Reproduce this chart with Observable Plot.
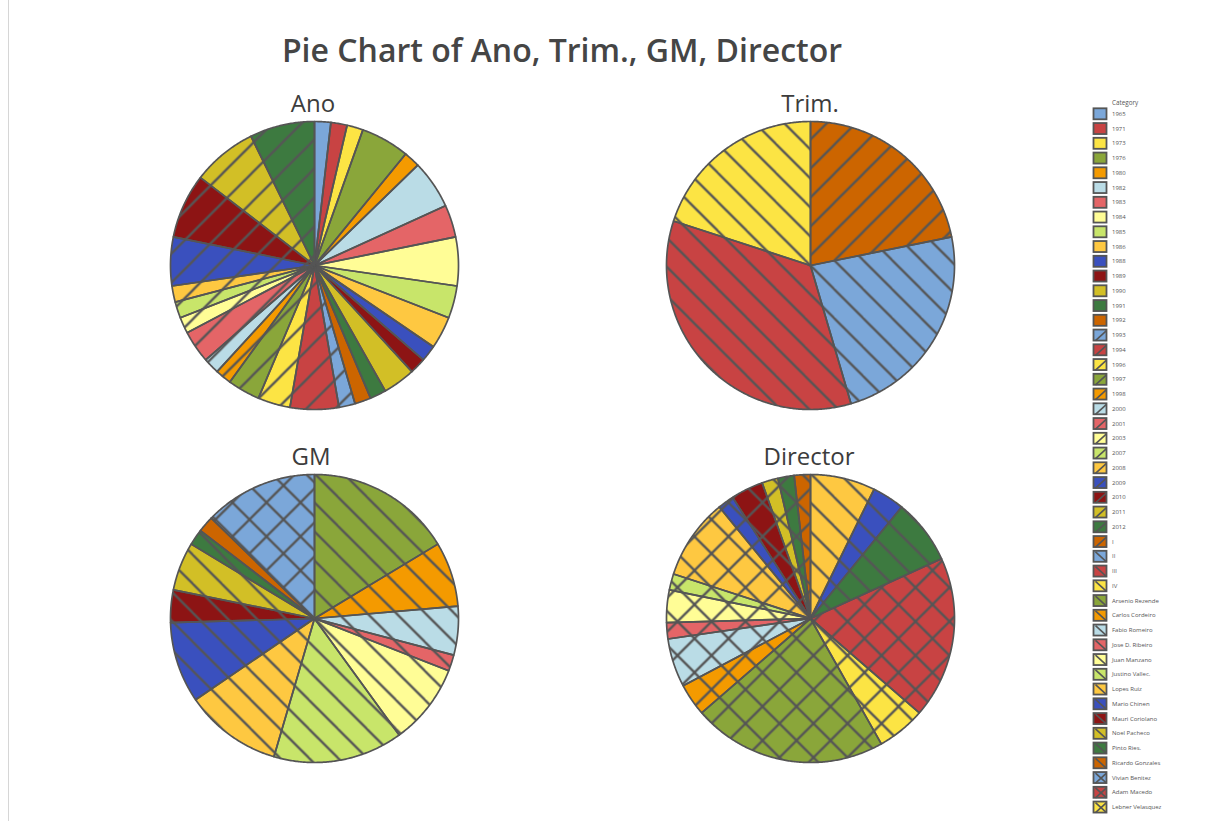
<!DOCTYPE html>
<html><head><meta charset="utf-8">
<script src="https://cdn.jsdelivr.net/npm/d3@7"></script>
<script src="https://cdn.jsdelivr.net/npm/@observablehq/plot@0.6"></script>
<style>
html,body{margin:0;padding:0;background:#fff;}
#page{position:relative;width:1225px;height:821px;overflow:hidden;font-family:"Segoe UI","Open Sans",sans-serif;background:#fff;}
.frame{position:absolute;left:8px;top:0;width:1px;height:821px;background:#d6d6d6;}
.title{position:absolute;left:0;width:1124px;top:29px;text-align:center;font-size:32px;font-weight:600;line-height:42px;color:#454545;white-space:nowrap;}
.sub{position:absolute;font-size:24px;line-height:24px;color:#3c3c3c;transform:translateX(-50%);white-space:nowrap;}
.pie{position:absolute;}
</style></head><body>
<div id="page"><div class="frame"></div></div>
<script>
// ---------- data ----------
const years = ["1965","1971","1973","1976","1980","1982","1983","1984","1985","1986","1988","1989","1990","1991","1992","1993","1994","1996","1997","1998","2000","2001","2003","2007","2008","2009","2010","2011","2012"];
const anoCounts = [1,1,1,3,1,3,2,3,2,2,1,1,2,1,1,1,3,2,2,1,1,2,1,1,1,3,4,4,4];
const quarters = ["I","II","III","IV"];
const trimCounts = [12,13,19,11];
const gmNames = ["Arsenio Rezende","Carlos Cordeiro","Fabio Romeiro","Jose D. Ribeiro","Juan Manzano","Justino Vallec.","Lopes Ruiz","Mario Chinen","Mauri Coriolano","Noel Pacheco","Pinto Ries.","Ricardo Gonzales","Vivian Benitez"];
const gmCounts = [9,4,3,1,5,8,6,5,2,3,1,1,7];
// director categories beyond "Lebner Velasquez" are cut off in the legend of the original
const directorNames = ["Lopes Ruiz","Mario Chinen","Pinto Ries.","Adam Macedo","Lebner Velasquez","Diretor 06","Diretor 07","Diretor 08","Diretor 09","Diretor 10","Diretor 11","Diretor 12","Diretor 13","Diretor 14","Diretor 15","Diretor 16","Diretor 17"];
const directorCounts = [4,2,4,10,3,12,2,3,1,2,1,5,1,2,1,1,1];
const legendVisible = 48;
const palette = ["#7BA7D9","#C84343","#FCE444","#8AA63A","#F49A00","#BADCE6","#E46567","#FFFD96","#C8E56A","#FEC841","#3A50BE","#8D1414","#D2BF26","#3D7A40","#CC6500"];
const hatchKinds = ["none","fwd","back","cross"];

const allCats = [];
[years, quarters, gmNames, directorNames].forEach(list => list.forEach(c => { if (!allCats.includes(c)) allCats.push(c); }));
const colorOf = c => palette[allCats.indexOf(c) % 15];
const hatchOf = c => hatchKinds[Math.floor(allCats.indexOf(c) / 15) % 4];

const page = document.getElementById("page");
const EDGE = "#555555";

// ---------- hatch patterns ----------
const defsSvg = d3.select(page).append("svg").attr("width", 0).attr("height", 0).style("position", "absolute");
const defs = defsSvg.append("defs");
function addPattern(id, P, kinds) {
  const p = defs.append("pattern").attr("id", id).attr("patternUnits", "userSpaceOnUse")
    .attr("width", P).attr("height", P);
  const segs = [];
  if (kinds.includes("f")) segs.push([0, P, P, 0], [-2, 2, 2, -2], [P - 2, P + 2, P + 2, P - 2]);
  if (kinds.includes("b")) segs.push([0, 0, P, P], [-2, P - 2, 2, P + 2], [P - 2, -2, P + 2, 2]);
  segs.forEach(s => p.append("line").attr("x1", s[0]).attr("y1", s[1]).attr("x2", s[2]).attr("y2", s[3])
    .attr("stroke", EDGE).attr("stroke-width", 2.3));
}
addPattern("h-fwd", 29, "f");
addPattern("h-back", 29, "b");
addPattern("h-cross", 34, "fb");

// ---------- pies ----------
function piePlot(cats, counts, cx, cy) {
  const rows = cats.map((c, i) => ({cat: c, n: counts[i]}));
  const arcs = d3.pie().sort(null).value(d => d.n)(rows);
  const pts = [];
  arcs.forEach(a => {
    const h = hatchOf(a.data.cat);
    const base = {cat: a.data.cat, color: colorOf(a.data.cat), hatch: h === "none" ? null : `url(#h-${h})`};
    const span = a.endAngle - a.startAngle;
    const n = Math.max(2, Math.ceil(span / (Math.PI / 360)));
    pts.push({...base, x: 0, y: 0});
    for (let j = 0; j <= n; j++) {
      const t = a.startAngle + span * j / n;
      pts.push({...base, x: Math.sin(t), y: Math.cos(t)});
    }
    pts.push({...base, x: 0, y: 0});
  });
  const svg = Plot.plot({
    width: 300, height: 300, margin: 6,
    x: {domain: [-1, 1], axis: null},
    y: {domain: [-1, 1], axis: null},
    color: {type: "identity"},
    style: {background: "transparent", overflow: "visible"},
    marks: [
      Plot.line(pts, {x: "x", y: "y", z: "cat", fill: "color", stroke: "none"}),
      Plot.line(pts.filter(d => d.hatch), {x: "x", y: "y", z: "cat", fill: "hatch", stroke: "none"}),
      Plot.line(pts, {x: "x", y: "y", z: "cat", stroke: EDGE, strokeWidth: 1.7, strokeLinejoin: "round"})
    ]
  });
  svg.classList.add("pie");
  svg.style.left = (cx - 150) + "px";
  svg.style.top = (cy - 150) + "px";
  page.appendChild(svg);
}
piePlot(years, anoCounts, 313.5, 265);
piePlot(quarters, trimCounts, 810, 265);
piePlot(gmNames, gmCounts, 314, 618);
piePlot(directorNames, directorCounts, 810, 618);

// ---------- titles ----------
const t = document.createElement("div");
t.className = "title"; t.textContent = "Pie Chart of Ano, Trim., GM, Director";
page.appendChild(t);
[["Ano", 313, 91], ["Trim.", 810, 91], ["GM", 311, 444], ["Director", 809, 444]].forEach(([s, x, y]) => {
  const d = document.createElement("div");
  d.className = "sub"; d.textContent = s; d.style.left = x + "px"; d.style.top = y + "px";
  page.appendChild(d);
});

// ---------- legend ----------
const lg = d3.select(page).append("svg").attr("width", 140).attr("height", 731)
  .style("position", "absolute").style("left", "1085px").style("top", "90px");
lg.append("text").attr("x", 27).attr("y", 14.5).attr("font-size", 6.3).attr("fill", "#555")
  .attr("font-family", "Segoe UI, Open Sans, sans-serif").text("Category");
allCats.slice(0, legendVisible).forEach((c, i) => {
  const yc = 23.8 + i * 14.75;
  const g = lg.append("g").attr("transform", `translate(8.5,${yc - 5.5})`);
  g.append("rect").attr("width", 13).attr("height", 11).attr("fill", colorOf(c));
  const h = hatchOf(c);
  if (h === "fwd" || h === "cross") g.append("line").attr("x1", 2).attr("y1", 11).attr("x2", 13).attr("y2", 1).attr("stroke", EDGE).attr("stroke-width", 1.6);
  if (h === "back" || h === "cross") g.append("line").attr("x1", 2).attr("y1", 1).attr("x2", 13).attr("y2", 11).attr("stroke", EDGE).attr("stroke-width", 1.6);
  g.append("rect").attr("width", 13).attr("height", 11).attr("fill", "none").attr("stroke", EDGE).attr("stroke-width", 1.8);
  lg.append("text").attr("x", 27).attr("y", yc + 2).attr("font-size", 6).attr("fill", "#555")
    .attr("font-family", "Segoe UI, Open Sans, sans-serif").text(c);
});
</script></body></html>
